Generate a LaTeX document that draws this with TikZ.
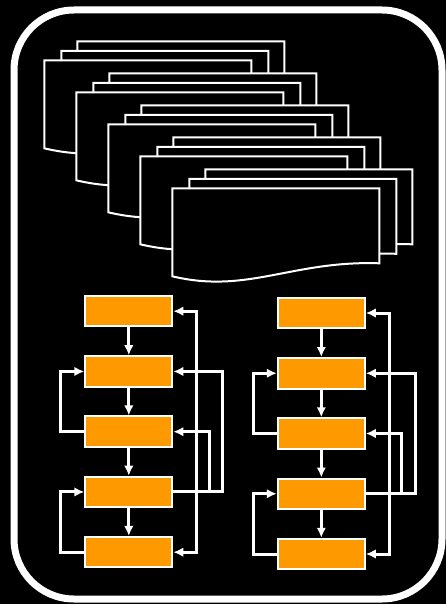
\documentclass[tikz,border=0pt]{standalone}
\usetikzlibrary{arrows.meta}
\definecolor{boxorange}{HTML}{FF9900}
\begin{document}
\begin{tikzpicture}[x=1pt,y=-1pt,
  docpage/.style={fill=black,draw=white,line width=2pt,line join=miter},
  stepbox/.style={rectangle,fill=boxorange,draw=white,line width=2pt,minimum width=87pt,minimum height=30.5pt,inner sep=0pt},
  conn/.style={draw=white,line width=3pt,-{Latex[length=10pt,width=9.5pt]}}]
\fill[black] (0,0) rectangle (446,604);
\useasboundingbox (0,0) rectangle (446,604);
\draw[white,line width=7pt,rounded corners=60pt] (14,10) rectangle (442,599);
% stacked documents
\foreach \k in {0,...,4}{
  \foreach \dx/\dy in {33/-19, 17/-9.5, 0/0}{
    \path[docpage,shift={(44.3+32*\k+\dx,60.3+32*\k+\dy)}]
      (0,0) -- (207,0) -- (207,75) .. controls (120,72) and (75,106) .. (0,88) -- cycle;
  }
}
% two flowcharts
\foreach \p/\cx/\cy in {a/128.8/311.2, b/321.3/313}{
  \foreach \i in {1,...,5}{
    \node[stepbox] (\p\i) at (\cx,{\cy+60.25*(\i-1)}) {};
  }
  \foreach \i/\j in {1/2,2/3,3/4,4/5}{
    \draw[conn] (\p\i.south) -- (\p\j.north);
  }
  \draw[conn] (\p4.east) -- ++(49.4,0) |- (\p2.east);
  \draw[conn] (\p4.east) -- ++(36,0) |- (\p3.east);
  \draw[conn] (\p4.east) -- ++(23.4,0) |- (\p1.east);
  \draw[conn] (\p4.east) -- ++(23.4,0) |- (\p5.east);
  \draw[conn] (\p3.west) -- ++(-23.4,0) |- (\p2.west);
  \draw[conn] (\p5.west) -- ++(-23.4,0) |- (\p4.west);
}
\end{tikzpicture}
\end{document}
